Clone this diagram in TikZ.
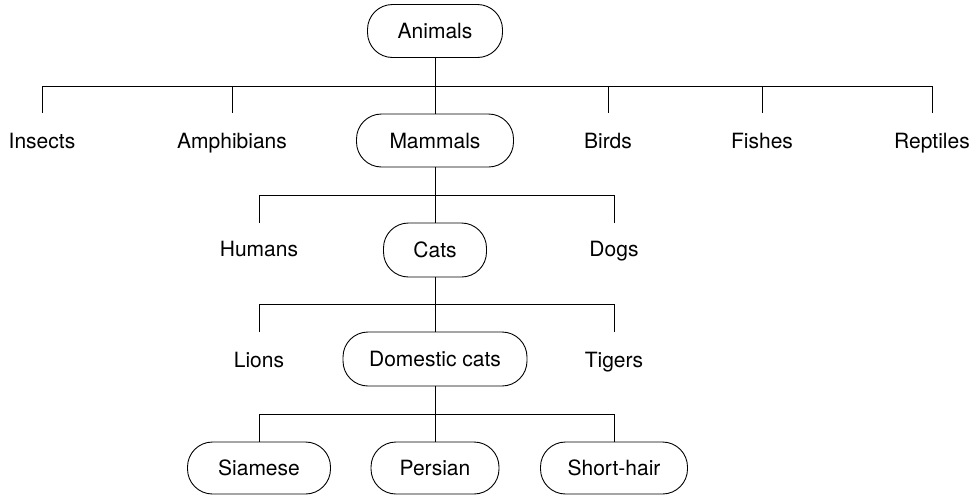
\documentclass[tikz,border=0pt]{standalone}
\usepackage{fontspec}
\setmainfont{TeX Gyre Heros}
\begin{document}
\begin{tikzpicture}[x=1pt,y=-1pt,
  txt/.style={inner sep=0pt, font=\fontsize{21}{25}\selectfont, text height=15pt, text depth=0pt},
  box/.style={txt, draw, line width=0.9pt, rounded corners=25pt, minimum height=53pt},
  lbl/.style={txt, minimum height=56pt},
  conn/.style={line width=0.9pt}]
\useasboundingbox (0,0) rectangle (978,496);
% level 0
\node[box, minimum width=135pt] (animals) at (435,31) {Animals};
% level 1
\node[lbl] (insects) at (42,141) {Insects};
\node[lbl] (amphibians) at (232,141) {Amphibians};
\node[box, minimum width=157pt] (mammals) at (435,140.5) {Mammals};
\node[lbl] (birds) at (608,141) {Birds};
\node[lbl] (fishes) at (762,141) {Fishes};
\node[lbl] (reptiles) at (932,141) {Reptiles};
% level 2
\node[lbl, minimum height=52pt] (humans) at (259,249) {Humans};
\node[box, minimum width=103pt, minimum height=54pt] (cats) at (435,250) {Cats};
\node[lbl, minimum height=52pt] (dogs) at (614,249) {Dogs};
% level 3
\node[lbl] (lions) at (259,360) {Lions};
\node[box, minimum width=184pt, minimum height=54pt] (domestic) at (435,359) {Domestic cats};
\node[lbl] (tigers) at (614,360) {Tigers};
% level 4
\node[box, minimum width=143pt, minimum height=52pt] (siamese) at (259,468) {Siamese};
\node[box, minimum width=128pt, minimum height=52pt] (persian) at (435,468) {Persian};
\node[box, minimum width=147pt, minimum height=52pt] (shorthair) at (614,468) {Short-hair};
% branch points
\coordinate (b1) at (435,86);
\coordinate (b2) at (435,195);
\coordinate (b3) at (435,304);
\coordinate (b4) at (435,414);
% connectors
\draw[conn] (animals.south) -- (b1);
\foreach \c in {insects,amphibians,mammals,birds,fishes,reptiles}
  \draw[conn] (b1) -| (\c.north);
\draw[conn] (mammals.south) -- (b2);
\foreach \c in {humans,cats,dogs}
  \draw[conn] (b2) -| (\c.north);
\draw[conn] (cats.south) -- (b3);
\foreach \c in {lions,domestic,tigers}
  \draw[conn] (b3) -| (\c.north);
\draw[conn] (domestic.south) -- (b4);
\foreach \c in {siamese,persian,shorthair}
  \draw[conn] (b4) -| (\c.north);
\end{tikzpicture}
\end{document}
